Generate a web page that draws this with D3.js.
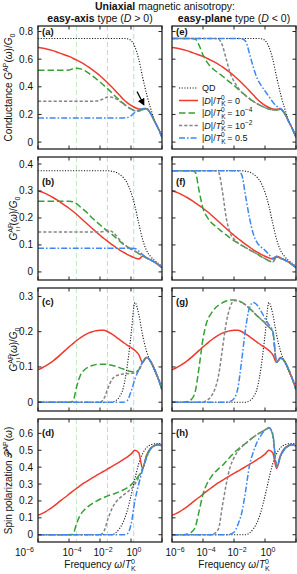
<!DOCTYPE html>
<html>
<head>
<meta charset="utf-8">
<script src="https://cdn.jsdelivr.net/npm/d3@7"></script>
<style>
body { margin: 0; background: #fff; }
svg text { font-family: "Liberation Sans", Arial, sans-serif; fill: #111; }
</style>
</head>
<body>
<svg id="fig" width="297" height="574"></svg>
<script>
// frequency grid, log10(omega / T_K^0)
var freqExp = [-6,-5.75,-5.5,-5.25,-5,-4.75,-4.5,-4.25,-4,-3.75,-3.5,-3.25,-3,-2.75,-2.5,-2.25,-2,-1.75,-1.5,-1.25,-1,-0.75,-0.5,-0.25,0,0.25,0.5,0.75,1,1.25,1.5,1.75,2];

// conductance G^AP / G0  (panels a, e)
var qdG = [0.75,0.75,0.75,0.75,0.75,0.75,0.75,0.75, 0.75,0.75,0.75,0.75,0.75,0.75,0.75,0.75, 0.75,0.75,0.75,0.75,0.75,0.75,0.75,0.748, 0.735,0.69,0.6,0.47,0.35,0.25,0.165,0.1,0.055];
var redG = [0.685,0.68,0.675,0.668,0.66,0.65,0.64,0.63, 0.62,0.607,0.593,0.578,0.562,0.545,0.525,0.503, 0.48,0.455,0.428,0.4,0.37,0.34,0.31,0.285, 0.265,0.25,0.24,0.238,0.242,0.21,0.155,0.1,0.035];
var greenGa = [0.52,0.52,0.52,0.52,0.52,0.52,0.52,0.52, 0.522,0.53,0.535,0.53,0.518,0.5,0.48,0.458, 0.435,0.41,0.385,0.358,0.33,0.305,0.28,0.258, 0.24,0.228,0.228,0.236,0.242,0.21,0.155,0.1,0.035];
var grayGa = [0.295,0.295,0.295,0.295,0.295,0.295,0.295,0.295, 0.295,0.295,0.295,0.295,0.295,0.295,0.295,0.297, 0.303,0.315,0.326,0.325,0.315,0.298,0.278,0.258, 0.24,0.226,0.224,0.234,0.242,0.21,0.155,0.1,0.035];
var blueGa = [0.175,0.175,0.175,0.175,0.175,0.175,0.175,0.175, 0.175,0.175,0.175,0.175,0.175,0.175,0.175,0.175, 0.175,0.175,0.175,0.175,0.175,0.175,0.175,0.177, 0.19,0.215,0.232,0.242,0.245,0.21,0.155,0.1,0.035];
var greenGe = [0.75,0.75,0.75,0.75,0.75,0.75,0.745,0.7, 0.63,0.58,0.545,0.52,0.5,0.478,0.455,0.432, 0.41,0.385,0.36,0.337,0.315,0.295,0.277,0.262, 0.25,0.24,0.232,0.232,0.238,0.21,0.155,0.1,0.035];
var grayGe = [0.75,0.75,0.75,0.75,0.75,0.75,0.75,0.75, 0.75,0.75,0.75,0.75,0.745,0.7,0.6,0.5, 0.44,0.395,0.36,0.335,0.313,0.294,0.277,0.262, 0.25,0.24,0.232,0.232,0.238,0.21,0.155,0.1,0.035];
var blueGe = [0.75,0.75,0.75,0.75,0.75,0.75,0.75,0.75, 0.75,0.75,0.75,0.75,0.75,0.75,0.75,0.75, 0.75,0.75,0.748,0.73,0.64,0.54,0.46,0.41, 0.37,0.33,0.29,0.26,0.242,0.21,0.155,0.1,0.035];

// G_up,up (panels b, f)
var qdUU = [0.375,0.375,0.375,0.375,0.375,0.375,0.375,0.375, 0.375,0.375,0.375,0.375,0.375,0.375,0.375,0.375, 0.375,0.375,0.375,0.373,0.37,0.362,0.35,0.33, 0.295,0.245,0.18,0.12,0.08,0.058,0.044,0.032,0.02];
var redUU = [0.3,0.296,0.29,0.283,0.275,0.266,0.256,0.246, 0.236,0.225,0.213,0.2,0.187,0.174,0.161,0.148, 0.136,0.124,0.113,0.102,0.092,0.082,0.073,0.065, 0.058,0.052,0.048,0.058,0.052,0.045,0.037,0.027,0.016];
var greenUUb = [0.262,0.262,0.262,0.262,0.262,0.262,0.262,0.262, 0.262,0.26,0.252,0.24,0.228,0.215,0.2,0.187, 0.175,0.162,0.15,0.14,0.128,0.115,0.103,0.093, 0.085,0.077,0.068,0.06,0.052,0.045,0.037,0.027,0.016];
var grayUUb = [0.148,0.148,0.148,0.148,0.148,0.148,0.148,0.148, 0.148,0.148,0.148,0.148,0.148,0.148,0.148,0.148, 0.148,0.15,0.154,0.15,0.138,0.12,0.105,0.094, 0.085,0.077,0.068,0.06,0.052,0.045,0.037,0.027,0.016];
var blueUUb = [0.088,0.088,0.088,0.088,0.088,0.088,0.088,0.088, 0.088,0.088,0.088,0.088,0.088,0.088,0.088,0.088, 0.088,0.088,0.088,0.088,0.088,0.088,0.088,0.088, 0.088,0.087,0.077,0.064,0.053,0.045,0.037,0.027,0.016];
var greenUUf = [0.375,0.375,0.375,0.375,0.375,0.375,0.37,0.3, 0.235,0.205,0.185,0.172,0.16,0.148,0.137,0.126, 0.116,0.107,0.098,0.09,0.082,0.074,0.066,0.057, 0.049,0.041,0.037,0.055,0.05,0.045,0.037,0.027,0.016];
var grayUUf = [0.375,0.375,0.375,0.375,0.375,0.375,0.375,0.375, 0.375,0.375,0.375,0.375,0.37,0.3,0.2,0.145, 0.122,0.108,0.098,0.09,0.082,0.074,0.066,0.057, 0.049,0.041,0.037,0.055,0.05,0.045,0.037,0.027,0.016];
var blueUUf = [0.375,0.375,0.375,0.375,0.375,0.375,0.375,0.375, 0.375,0.375,0.375,0.375,0.375,0.375,0.375,0.375, 0.375,0.375,0.36,0.28,0.2,0.14,0.108,0.092, 0.08,0.065,0.05,0.057,0.05,0.045,0.037,0.027,0.016];

// G_up,down (panels c, g)
var qdUD = [0,0,0,0,0,0,0,0, 0,0,0,0,0,0,0,0, 0,0,0,0,0.004,0.015,0.04,0.1, 0.19,0.283,0.25,0.19,0.145,0.115,0.09,0.068,0.048];
var redUD = [0.092,0.097,0.103,0.11,0.118,0.127,0.137,0.147, 0.157,0.166,0.175,0.183,0.19,0.196,0.2,0.203, 0.204,0.204,0.2,0.194,0.186,0.178,0.17,0.162, 0.155,0.147,0.135,0.113,0.127,0.117,0.095,0.068,0.035];
var greenUDc = [0,0,0,0,0,0,0,0, 0,0.003,0.045,0.078,0.092,0.1,0.104,0.107, 0.108,0.108,0.107,0.105,0.102,0.098,0.094,0.09, 0.087,0.086,0.092,0.113,0.127,0.117,0.095,0.068,0.035];
var grayUDc = [0,0,0,0,0,0,0,0, 0,0,0,0,0,0,0,0, 0,0.01,0.038,0.063,0.074,0.078,0.08,0.081, 0.082,0.083,0.09,0.113,0.127,0.117,0.095,0.068,0.035];
var blueUDc = [0,0,0,0,0,0,0,0, 0,0,0,0,0,0,0,0, 0,0,0,0,0,0,0,0.004, 0.03,0.065,0.092,0.113,0.127,0.117,0.095,0.068,0.035];
var greenUDg = [0,0,0,0,0.002,0.008,0.03,0.1, 0.18,0.228,0.25,0.265,0.275,0.282,0.287,0.29, 0.29,0.288,0.283,0.276,0.266,0.256,0.245,0.235, 0.225,0.213,0.2,0.113,0.125,0.117,0.095,0.068,0.035];
var grayUDg = [0,0,0,0,0,0,0,0, 0,0.005,0.015,0.035,0.075,0.15,0.225,0.27, 0.288,0.288,0.283,0.276,0.266,0.256,0.245,0.235, 0.225,0.213,0.2,0.113,0.125,0.117,0.095,0.068,0.035];
var blueUDg = [0,0,0,0,0,0,0,0, 0,0,0,0,0,0,0,0.002, 0.01,0.04,0.12,0.21,0.268,0.283,0.275,0.258, 0.238,0.22,0.202,0.113,0.125,0.117,0.095,0.068,0.035];

// spin polarization P^AP (panels d, h)
var qdP = [0,0,0,0,0,0,0,0, 0,0,0,0,0,0,0,0, 0,0,0,0,0.01,0.035,0.075,0.14, 0.23,0.33,0.42,0.48,0.515,0.532,0.538,0.54,0.54];
var redP = [0.115,0.125,0.137,0.152,0.168,0.186,0.205,0.222, 0.24,0.258,0.275,0.292,0.308,0.322,0.336,0.35, 0.363,0.376,0.39,0.403,0.417,0.43,0.445,0.46, 0.477,0.5,0.485,0.392,0.47,0.51,0.527,0.532,0.525];
var greenPd = [0,0,0,0,0,0,0,0, 0,0.003,0.07,0.12,0.148,0.168,0.184,0.198, 0.21,0.22,0.23,0.238,0.246,0.255,0.265,0.278, 0.295,0.32,0.35,0.392,0.46,0.508,0.527,0.533,0.527];
var grayPd = [0,0,0,0,0,0,0,0, 0,0,0,0,0,0,0,0, 0,0.02,0.09,0.15,0.19,0.215,0.235,0.252, 0.27,0.3,0.34,0.392,0.46,0.508,0.527,0.533,0.527];
var bluePd = [0,0,0,0,0,0,0,0, 0,0,0,0,0,0,0,0, 0,0,0,0,0,0,0,0.005, 0.06,0.2,0.3,0.385,0.455,0.505,0.527,0.535,0.528];
var greenPh = [0,0,0,0,0.005,0.015,0.045,0.14, 0.24,0.3,0.338,0.368,0.39,0.41,0.435,0.46, 0.485,0.505,0.525,0.54,0.56,0.578,0.593,0.607, 0.62,0.632,0.59,0.405,0.465,0.505,0.525,0.533,0.527];
var grayPh = [0,0,0,0,0,0,0,0, 0,0,0,0.008,0.035,0.17,0.3,0.4, 0.455,0.495,0.52,0.54,0.56,0.578,0.593,0.607, 0.62,0.632,0.59,0.405,0.465,0.505,0.525,0.533,0.527];
var bluePh = [0,0,0,0,0,0,0,0, 0,0,0,0,0,0,0,0.003, 0.015,0.06,0.13,0.26,0.41,0.49,0.55,0.59, 0.62,0.635,0.6,0.4,0.465,0.505,0.525,0.533,0.527];

// axis ticks
var xTickExp = [-6, -4, -2, 0, 2];
var yTicksG = [0, 0.2, 0.4, 0.6, 0.8];
var yTicksUU = [0, 0.1, 0.2, 0.3, 0.4];
var yTicksUD = [0, 0.1, 0.2, 0.3];
var yTicksP = [0, 0.1, 0.2, 0.3, 0.4, 0.5, 0.6];
// 3|D| markers drawn in the easy-axis column
var markerFreq = [3e-4, 3e-2, 1.5];
var markerColors = ["#c3e5c3", "#d2d2d2", "#bdd3f6"];

var legendLabels = ["QD", "0", "10", "10", "0.5"];
var legendExp = [null, null, "\u22124", "\u22122", null];

var styles = {
  qd:    {color: "#111",    width: 1.1, dash: "1.1,1.6"},
  red:   {color: "#ee3b2e", width: 1.5, dash: null},
  green: {color: "#35a135", width: 1.5, dash: "6.5,3"},
  gray:  {color: "#858585", width: 1.5, dash: "3.2,2"},
  blue:  {color: "#3d87f5", width: 1.5, dash: "6,2,1.6,2"}
};
var order = ["qd", "red", "green", "gray", "blue"];

var pw = 124, ph = 123;
var colX = [38, 172];
var rowY = [26, 157, 288, 419];

var rows = [
  {domain: [-0.05, 0.84], ticks: yTicksG, labels: ["(a)", "(e)"], labelY: 9,
   sets: [{qd: qdG, red: redG, green: greenGa, gray: grayGa, blue: blueGa},
          {qd: qdG, red: redG, green: greenGe, gray: grayGe, blue: blueGe}]},
  {domain: [-0.03, 0.426], ticks: yTicksUU, labels: ["(b)", "(f)"], labelY: 28,
   sets: [{qd: qdUU, red: redUU, green: greenUUb, gray: grayUUb, blue: blueUUb},
          {qd: qdUU, red: redUU, green: greenUUf, gray: grayUUf, blue: blueUUf}]},
  {domain: [-0.025, 0.324], ticks: yTicksUD, labels: ["(c)", "(g)"], labelY: 17,
   sets: [{qd: qdUD, red: redUD, green: greenUDc, gray: grayUDc, blue: blueUDc},
          {qd: qdUD, red: redUD, green: greenUDg, gray: grayUDg, blue: blueUDg}]},
  {domain: [-0.043, 0.685], ticks: yTicksP, labels: ["(d)", "(h)"], labelY: 17,
   sets: [{qd: qdP, red: redP, green: greenPd, gray: grayPd, blue: bluePd},
          {qd: qdP, red: redP, green: greenPh, gray: grayPh, blue: bluePh}]}
];

var svg = d3.select("#fig");

// text with italic / super / subscript pieces
function rich(sel, parts, small) {
  var cur = 0;
  small = small || 7;
  parts.forEach(function (p) {
    var s = typeof p === "string" ? {t: p} : p;
    var off = s.sup ? -4 : (s.sub ? 2.6 : 0);
    var ts = sel.append("tspan").text(s.t).attr("dy", off - cur);
    cur = off;
    if (s.sup || s.sub) ts.attr("font-size", small + "px");
    if (s.it) ts.attr("font-style", "italic");
    if (s.b) ts.attr("font-weight", "bold");
    if (s.dx) ts.attr("dx", s.dx);
  });
  return sel;
}

var x = d3.scaleLog().domain([1e-6, 1e2]).range([0, pw]);

svg.append("defs").append("marker")
  .attr("id", "arrowhead").attr("viewBox", "0 0 10 10")
  .attr("refX", 8).attr("refY", 5)
  .attr("markerWidth", 6).attr("markerHeight", 6)
  .attr("orient", "auto")
  .append("path").attr("d", "M0,0 L10,5 L0,10 z").attr("fill", "#000");

rows.forEach(function (row, ri) {
  var y = d3.scaleLinear().domain(row.domain).range([ph, 0]);
  [0, 1].forEach(function (ci) {
    var g = svg.append("g").attr("transform", "translate(" + colX[ci] + "," + rowY[ri] + ")");
    var clipId = "clip" + ri + ci;
    g.append("clipPath").attr("id", clipId).append("rect").attr("width", pw).attr("height", ph);

    if (ci === 0) {
      g.selectAll(".mark").data(markerFreq).enter().append("line")
        .attr("x1", function (d) { return x(d); }).attr("x2", function (d) { return x(d); })
        .attr("y1", 0).attr("y2", ph)
        .attr("stroke", function (d, i) { return markerColors[i]; })
        .attr("stroke-width", 1).attr("stroke-dasharray", "5,3");
    }

    var line = d3.line()
      .x(function (d, i) { return x(Math.pow(10, freqExp[i])); })
      .y(function (d) { return y(d); })
      .curve(d3.curveMonotoneX);

    var set = row.sets[ci];
    var lg = g.append("g").attr("clip-path", "url(#" + clipId + ")");
    order.forEach(function (k) {
      var st = styles[k];
      lg.append("path").datum(set[k])
        .attr("d", line).attr("fill", "none")
        .attr("stroke", st.color).attr("stroke-width", st.width)
        .attr("stroke-dasharray", st.dash)
        .attr("stroke-linejoin", "round");
    });

    // ticks on all four sides, pointing inward
    var tl = 3.5;
    xTickExp.forEach(function (e) {
      var px = x(Math.pow(10, e));
      g.append("line").attr("x1", px).attr("x2", px).attr("y1", ph).attr("y2", ph - tl).attr("stroke", "#222");
      g.append("line").attr("x1", px).attr("x2", px).attr("y1", 0).attr("y2", tl).attr("stroke", "#222");
    });
    row.ticks.forEach(function (t) {
      var py = y(t);
      g.append("line").attr("x1", 0).attr("x2", tl).attr("y1", py).attr("y2", py).attr("stroke", "#222");
      g.append("line").attr("x1", pw).attr("x2", pw - tl).attr("y1", py).attr("y2", py).attr("stroke", "#222");
      if (ci === 0) {
        g.append("text").attr("x", -5).attr("y", py).attr("dy", "0.35em")
          .attr("text-anchor", "end").attr("font-size", "10px")
          .text(t === 0 ? "0" : d3.format(".1f")(t));
      }
    });

    g.append("rect").attr("width", pw).attr("height", ph)
      .attr("fill", "none").attr("stroke", "#222").attr("stroke-width", 1.3);

    g.append("text").attr("x", 4).attr("y", row.labelY)
      .attr("font-size", "9.5px").attr("font-weight", "bold")
      .text(row.labels[ci]);

    if (ri === 0 && ci === 0) {
      g.append("line")
        .attr("x1", x(Math.pow(10, 0.39))).attr("y1", y(0.365))
        .attr("x2", x(Math.pow(10, 0.82))).attr("y2", y(0.272))
        .attr("stroke", "#000").attr("stroke-width", 1.2)
        .attr("marker-end", "url(#arrowhead)");
    }

    if (ri === 0 && ci === 1) {
      var leg = g.append("g").attr("transform", "translate(7,62)");
      order.forEach(function (k, i) {
        var st = styles[k];
        var yy = i * 12.5;
        leg.append("line").attr("x1", 0).attr("x2", 19).attr("y1", yy).attr("y2", yy)
          .attr("stroke", st.color).attr("stroke-width", st.width)
          .attr("stroke-dasharray", st.dash);
        var t = leg.append("text").attr("x", 23).attr("y", yy + 3.2).attr("font-size", "9px");
        if (i === 0) {
          t.text(legendLabels[i]);
        } else {
          var parts = ["|", {t: "D", it: 1}, "|/", {t: "T", it: 1}, {t: "K", sub: 1},
                       {t: "0", sup: 1, dx: -4.5}, " = " + legendLabels[i]];
          if (legendExp[i]) parts.push({t: legendExp[i], sup: 1});
          rich(t, parts, 6.5);
        }
      });
    }

    if (ri === 3) {
      xTickExp.slice(0, 4).forEach(function (e, i) {
        var px = x(Math.pow(10, e));
        var t = g.append("text").attr("y", ph + 14).attr("font-size", "10px");
        if (ci === 0 && i === 0) {
          t.attr("x", px - 4).attr("text-anchor", "end");
        } else {
          t.attr("x", px + 3).attr("text-anchor", "middle");
        }
        rich(t, ["10", {t: e === 0 ? "0" : "\u2212" + Math.abs(e), sup: 1}]);
      });
      var xl = g.append("text").attr("x", pw / 2).attr("y", ph + 26)
        .attr("text-anchor", "middle").attr("font-size", "10px");
      rich(xl, ["Frequency ", {t: "\u03c9", it: 1}, "/", {t: "T", it: 1}, {t: "K", sub: 1}, {t: "0", sup: 1, dx: -4.8}]);
    }
  });
});

// y axis titles
var yTitles = [
  ["Conductance ", {t: "G", it: 1}, {t: "AP", sup: 1}, "(", {t: "\u03c9", it: 1}, ")/", {t: "G", it: 1}, {t: "0", sub: 1}],
  [{t: "G", it: 1}, {t: "AP", sup: 1}, {t: "\u2191\u2191", sub: 1, dx: -9}, "(", {t: "\u03c9", it: 1}, ")/", {t: "G", it: 1}, {t: "0", sub: 1}],
  [{t: "G", it: 1}, {t: "AP", sup: 1}, {t: "\u2191\u2193", sub: 1, dx: -9}, "(", {t: "\u03c9", it: 1}, ")/", {t: "G", it: 1}, {t: "0", sub: 1}],
  ["Spin polarization ", {t: "\ud835\udcab", it: 0}, {t: "AP", sup: 1}, "(", {t: "\u03c9", it: 1}, ")"]
];
var yTitleX = [12, 17, 17, 12];
yTitles.forEach(function (parts, i) {
  var cy = rowY[i] + ph / 2;
  var t = svg.append("text")
    .attr("transform", "translate(" + yTitleX[i] + "," + cy + ") rotate(-90)")
    .attr("text-anchor", "middle").attr("font-size", "10px");
  rich(t, parts);
});

// titles
rich(svg.append("text").attr("x", 165).attr("y", 10).attr("text-anchor", "middle").attr("font-size", "10.5px"),
  [{t: "Uniaxial", b: 1}, " magnetic anisotropy:"]);
rich(svg.append("text").attr("x", colX[0] + pw / 2).attr("y", 21.5).attr("text-anchor", "middle").attr("font-size", "10.5px"),
  [{t: "easy-axis", b: 1}, " type (", {t: "D", it: 1}, " > 0)"]);
rich(svg.append("text").attr("x", colX[1] + pw / 2).attr("y", 21.5).attr("text-anchor", "middle").attr("font-size", "10.5px"),
  [{t: "easy-plane", b: 1}, " type (", {t: "D", it: 1}, " < 0)"]);
</script>
</body>
</html>
